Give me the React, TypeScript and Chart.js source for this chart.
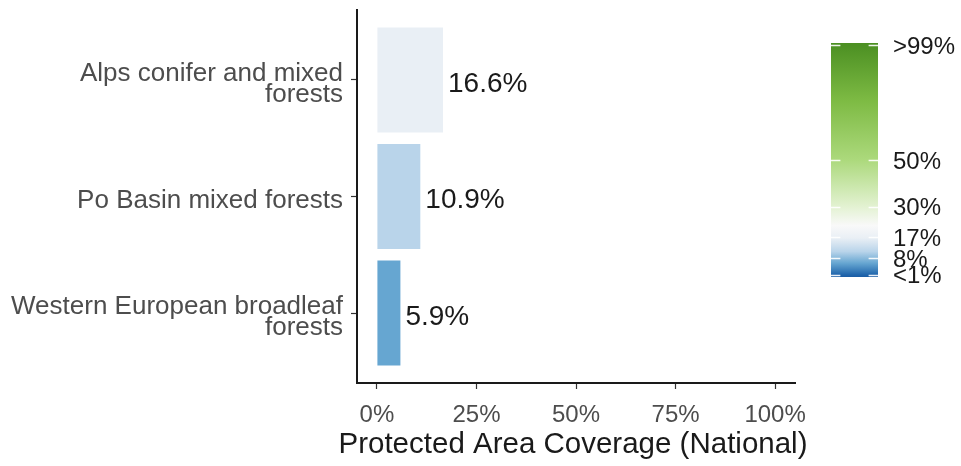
import React, { useEffect, useRef } from "react";
import { Chart, registerables } from "chart.js";

Chart.register(...registerables);

// ---- data ----
const categories = [
  "Alps conifer and mixed forests",
  "Po Basin mixed forests",
  "Western European broadleaf forests",
];
const categoryLines = [
  ["Alps conifer and mixed", "forests"],
  ["Po Basin mixed forests"],
  ["Western European broadleaf", "forests"],
];
const coverage = [16.6, 10.9, 5.9];
const xTicks = [0, 25, 50, 75, 100];
const xTitle = "Protected Area Coverage (National)";
const legendBreaks = [1, 8, 17, 30, 50, 99];
const legendLabels = ["<1%", "8%", "17%", "30%", "50%", ">99%"];
const legendRange = [0, 100];

// ---- styles ----
const barColors = ["#E9EFF5", "#B9D4EA", "#66A6D1"];
const gradientStops: [number, string][] = [
  [0, "#1b5ca4"],
  [1, "#2166ac"],
  [5.9, "#66A6D1"],
  [10.9, "#B9D4EA"],
  [16.6, "#E9EFF5"],
  [22, "#f9f9f9"],
  [30, "#e3f2d2"],
  [50, "#acd97c"],
  [75, "#7ebb44"],
  [100, "#4b8f22"],
];
const FONT = "'Liberation Sans', Arial, Helvetica, sans-serif";

export default function App() {
  const mainRef = useRef<HTMLCanvasElement | null>(null);
  const legendRef = useRef<HTMLCanvasElement | null>(null);

  useEffect(() => {
    const n = categories.length;
    const valueLabels = {
      id: "valueLabels",
      afterDatasetsDraw(chart: any) {
        const ctx = chart.ctx;
        const meta = chart.getDatasetMeta(0);
        ctx.save();
        ctx.font = `28px ${FONT}`;
        ctx.fillStyle = "#1a1a1a";
        ctx.textAlign = "left";
        ctx.textBaseline = "middle";
        meta.data.forEach((bar: any, i: number) => {
          ctx.fillText(coverage[i].toFixed(1) + "%", bar.x + 5, bar.y + 4);
        });
        // axis title, centred on the panel
        const a = chart.chartArea;
        ctx.font = `29.5px ${FONT}`;
        ctx.textAlign = "center";
        ctx.fillText(xTitle, (a.left + a.right) / 2 - 3, 445);
        ctx.restore();
      },
    };

    const main = new Chart(mainRef.current!, {
      type: "bar",
      data: {
        datasets: [
          {
            data: coverage.map((v, i) => ({ x: v, y: n - i })) as any,
            backgroundColor: barColors,
            borderWidth: 0,
            categoryPercentage: 1,
            barPercentage: 0.9,
          },
        ],
      },
      options: {
        indexAxis: "y",
        responsive: false,
        animation: false,
        events: [],
        layout: { padding: { left: 0, right: 166, top: 10, bottom: 0 } },
        plugins: { legend: { display: false }, tooltip: { enabled: false } },
        scales: {
          y: {
            type: "linear",
            min: 0.4,
            max: n + 0.6,
            offset: false,
            afterBuildTicks: (s: any) => {
              s.ticks = categories.map((_, i) => ({ value: n - i }));
            },
            afterFit: (s: any) => {
              s.width = 357;
              s.paddingTop = 0;
              s.paddingBottom = 0;
            },
            grid: {
              display: true,
              drawOnChartArea: false,
              drawTicks: true,
              tickLength: 6,
              tickColor: "#333333",
              tickWidth: 1.2,
              offset: false,
            },
            border: { display: true, color: "#1a1a1a", width: 2 },
            ticks: {
              padding: 8,
              labelOffset: 4,
              color: "#4d4d4d",
              font: { family: FONT, size: 26, lineHeight: 0.8 },
              callback: (v: any) => categoryLines[n - Number(v)] ?? "",
            },
          },
          x: {
            type: "linear",
            min: -5,
            max: 105,
            afterBuildTicks: (s: any) => {
              s.ticks = xTicks.map((v) => ({ value: v }));
            },
            afterFit: (s: any) => {
              s.height = 83;
              s.paddingLeft = 0;
              s.paddingRight = 0;
            },
            grid: {
              display: true,
              drawOnChartArea: false,
              drawTicks: true,
              tickLength: 6,
              tickColor: "#333333",
              tickWidth: 1.2,
            },
            border: { display: true, color: "#1a1a1a", width: 2 },
            ticks: {
              padding: 12,
              color: "#4d4d4d",
              maxRotation: 0,
              autoSkip: false,
              font: { family: FONT, size: 24 },
              callback: (v: any) => v + "%",
            },
            title: { display: false },
          },
        },
      },
      plugins: [valueLabels],
    });

    const legendTicks = {
      id: "legendTicks",
      afterDatasetsDraw(chart: any) {
        const ctx = chart.ctx;
        const ys = chart.scales.y;
        const a = chart.chartArea;
        const len = (a.right - a.left) / 5;
        ctx.save();
        ctx.strokeStyle = "rgba(255,255,255,0.9)";
        ctx.lineWidth = 1.5;
        legendBreaks.forEach((b) => {
          const y = Math.round(ys.getPixelForValue(b)) + 0.5;
          ctx.beginPath();
          ctx.moveTo(a.left, y);
          ctx.lineTo(a.left + len, y);
          ctx.moveTo(a.right - len, y);
          ctx.lineTo(a.right, y);
          ctx.stroke();
        });
        ctx.restore();
      },
    };

    const legend = new Chart(legendRef.current!, {
      type: "bar",
      data: {
        labels: ["coverage"],
        datasets: [
          {
            data: [legendRange] as any,
            borderWidth: 0,
            categoryPercentage: 1,
            barPercentage: 1,
            backgroundColor: (c: any) => {
              const chart = c.chart;
              const ys = chart.scales?.y;
              if (!chart.chartArea || !ys) return "#ffffff";
              const y0 = ys.getPixelForValue(legendRange[0]);
              const y1 = ys.getPixelForValue(legendRange[1]);
              const g = chart.ctx.createLinearGradient(0, y0, 0, y1);
              gradientStops.forEach(([v, col]) =>
                g.addColorStop((v - legendRange[0]) / (legendRange[1] - legendRange[0]), col)
              );
              return g;
            },
          },
        ],
      },
      options: {
        responsive: false,
        animation: false,
        events: [],
        layout: { padding: { left: 11, right: 0, top: 43, bottom: 23 } },
        plugins: { legend: { display: false }, tooltip: { enabled: false } },
        scales: {
          x: { display: false },
          y: {
            position: "right",
            min: legendRange[0],
            max: legendRange[1],
            afterBuildTicks: (s: any) => {
              s.ticks = legendBreaks.map((v) => ({ value: v }));
            },
            afterFit: (s: any) => {
              s.width = 83;
              s.paddingTop = 0;
              s.paddingBottom = 0;
            },
            grid: { display: false, drawTicks: false },
            border: { display: false },
            ticks: {
              padding: 15,
              labelOffset: 2,
              color: "#1a1a1a",
              autoSkip: false,
              font: { family: FONT, size: 24 },
              callback: (v: any) => legendLabels[legendBreaks.indexOf(Number(v))] ?? "",
            },
          },
        },
      },
      plugins: [legendTicks],
    });

    return () => {
      main.destroy();
      legend.destroy();
    };
  }, []);

  return (
    <div style={{ position: "fixed", left: 0, top: 0, width: 961, height: 466, background: "#ffffff" }}>
      <canvas ref={mainRef} width={961} height={466} style={{ position: "absolute", left: 0, top: 0, width: 961, height: 466 }} />
      <canvas ref={legendRef} width={141} height={300} style={{ position: "absolute", left: 820, top: 0, width: 141, height: 300 }} />
    </div>
  );
}
